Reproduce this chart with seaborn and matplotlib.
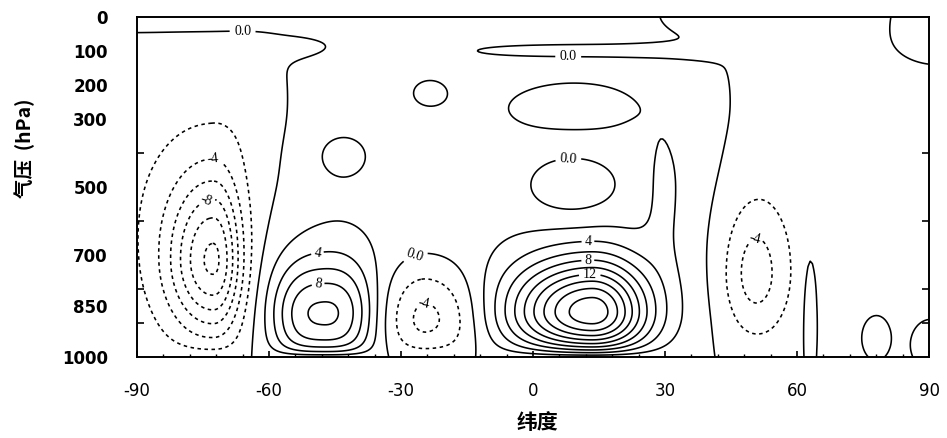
import numpy as np
import matplotlib
matplotlib.use("Agg")
import matplotlib.pyplot as plt
from matplotlib.ticker import FixedLocator, MultipleLocator
import seaborn as sns

# Mean meridional streamfunction, built from circulation cells: centre latitude /
# pressure, strength, west/east and upper/lower spreads, and latitudinal flatness.
cell_lat   = [-72.5, -48, -48, -24, 13.5, 50.5, -44, -23.5, 9.5, 9, 30, -8, -85, 75, 28, 55, 90, -70, -55, -63, 63, 78, 90]
cell_p     = [720, 880, 830, 885, 870, 755, 405, 222, 263, 497, 500, 500, 500, 500, 100, 0, 20, 0, 80, 250, 880, 940, 960]
cell_amp   = [-11.5, 8.0, 2.0, -5.8, 18.5, -4.6, 1.5, 1.6, 1.7, -2.6, 1.5, 1.3, -1.4, -1.0, -2.0, -1.0, 2.5, 1.5, -1.0, -0.8, 2.5, 1.6, 1.5]
cell_wwest = [7.5, 8.9, 9, 7, 13.5, 5.2, 5.5, 3.5, 13, 8.2, 3.5, 46, 22, 20, 36, 25, 7, 30, 20, 5, 1.0, 2.5, 3]
cell_weast = [4.5, 8.9, 9, 10, 9, 5.2, 5.5, 3.5, 13, 8.2, 3.5, 44, 22, 20, 22, 25, 7, 30, 9, 4, 1.0, 2.5, 3]
cell_sup   = [180, 110, 180, 110, 110, 150, 60, 35, 65, 72, 140, 450, 350, 500, 15, 60, 70, 40, 30, 130, 120, 50, 50]
cell_sdown = [150, 130, 150, 100, 90, 130, 60, 35, 65, 72, 170, 450, 350, 500, 15, 60, 70, 40, 30, 130, 120, 50, 50]
cell_klat  = [2, 3, 2, 2, 2, 2, 2, 2, 2, 2, 2, 6, 2, 2, 4, 4, 2, 4, 2, 2, 2, 2, 2]

# contour levels (interval 2) and the labelled contours
levels = np.arange(-14, 22, 2)
label_text = {0: "0.0", -4: "-4", -8: "-8", 4: "4", 8: "8", 12: "12"}
label_level = [0, 0, 0, 0, -4, -8, 4, 8, -4, 4, 8, 12, -4]
label_lat = [-66, 8, 8, -27.7, -72.7, -74, -49.3, -48.6, -25, 12.5, 12.5, 13, 50.5]
label_p = [38, 120, 412, 665, 430, 548, 673, 812, 832, 665, 729, 797, 655]

# axis labels
lat_ticks = [-90, -60, -30, 0, 30, 60, 90]
lat_labels = ["-90", "-60", "-30", "0", "30", "60", "90"]
p_ticks = [0, 100, 200, 300, 500, 700, 850, 1000]
p_labels = ["0", "100", "200", "300", "500", "700", "850", "1000"]

lat = np.linspace(-90, 90, 361)
pres = np.linspace(0, 1000, 401)
LAT, P = np.meshgrid(lat, pres)

psi = np.zeros_like(LAT)
for la, pc, a, ww, we, su, sd, k in zip(cell_lat, cell_p, cell_amp, cell_wwest,
                                        cell_weast, cell_sup, cell_sdown, cell_klat):
    wl = np.where(LAT < la, ww, we)
    sp = np.where(P < pc, su, sd)
    psi += a * np.exp(-0.5 * np.abs((LAT - la) / wl) ** k) * np.exp(-0.5 * ((P - pc) / sp) ** 2)
# streamfunction vanishes at the surface
psi *= 1 - np.exp(-(1001 - P) / 22)

sns.set_theme(style="ticks")
plt.rcParams["font.family"] = ["DejaVu Sans", "Noto Sans CJK SC"]
plt.rcParams["text.color"] = "black"
plt.rcParams["xtick.color"] = "black"
plt.rcParams["ytick.color"] = "black"
plt.rcParams["axes.labelcolor"] = "black"

fig = plt.figure(figsize=(9.47, 4.38), dpi=100)
ax = fig.add_axes([137 / 947, 1 - 357 / 438, 792 / 947, 340 / 438])


def draw(lvls):
    styles = [(0, (2.2, 2.2)) if l < 0 else "solid" for l in lvls]
    return ax.contour(LAT, P, psi, levels=lvls, colors="black",
                      linewidths=1.15, linestyles=styles)


plain = [l for l in levels if l not in label_text]
draw(plain)
for lv, txt in label_text.items():
    cs = draw([lv])
    pos = [(x, y) for l, x, y in zip(label_level, label_lat, label_p) if l == lv]
    texts = ax.clabel(cs, fmt={lv: txt}, manual=pos, inline=True,
                      inline_spacing=2, fontsize=10)
    for t in texts:
        t.set_fontfamily("Liberation Serif")

ax.set_xlim(-90, 90)
ax.set_ylim(1000, 0)
for s in ax.spines.values():
    s.set_linewidth(1.4)
    s.set_color("black")

ax.xaxis.set_major_locator(FixedLocator(lat_ticks))
ax.set_xticklabels(lat_labels, fontsize=12)
ax.xaxis.set_minor_locator(MultipleLocator(6))
ax.yaxis.set_major_locator(FixedLocator(p_ticks))
ax.set_yticklabels(p_labels, fontsize=12, fontweight="bold")
ax.yaxis.set_minor_locator(MultipleLocator(100))
ax.tick_params(axis="y", which="major", length=0, pad=21)
ax.tick_params(axis="y", which="minor", direction="in", length=5, width=1.2,
               left=True, right=True)
ax.tick_params(axis="x", which="major", direction="in", length=4, width=1.2, pad=18)
ax.tick_params(axis="x", which="minor", direction="in", length=2.5, width=1)

ax.set_ylabel("气压  (hPa)", fontsize=14, fontweight="bold",
              family=["Noto Sans CJK SC", "DejaVu Serif"])
ax.yaxis.set_label_coords(-0.128, 0.615)
ax.set_xlabel("纬度", fontsize=15, fontweight="bold", family=["Noto Sans CJK SC"],
              va="center")
ax.xaxis.set_label_coords(0.506, -0.194)

fig.savefig("out.png", dpi=100, facecolor="white")
